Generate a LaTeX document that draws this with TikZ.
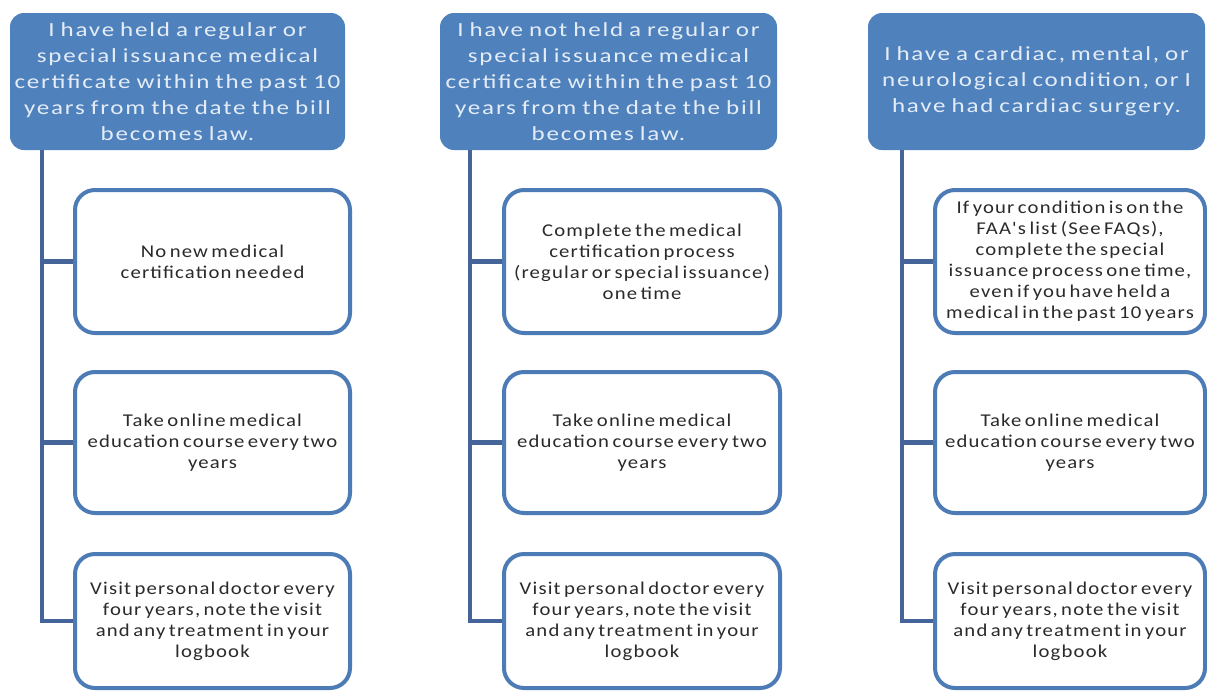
\documentclass[tikz,border=0pt]{standalone}
\usepackage{fontspec}
\setmainfont{Carlito}
\newfontfamily\hdrfont[FakeStretch=1.25, LetterSpace=9, WordSpace=0.8]{Carlito}
\newfontfamily\boxfont[FakeStretch=1.15, LetterSpace=6.5, WordSpace=0.6]{Carlito}
\usetikzlibrary{positioning}
\definecolor{hdrblue}{HTML}{4F81BD}
\definecolor{edgeblue}{HTML}{4C7BB6}
\definecolor{linkblue}{HTML}{44649A}
\definecolor{hdrtext}{HTML}{E4EDF7}
\definecolor{bodytext}{HTML}{2A2A2A}

\tikzset{
  header/.style={fill=hdrblue, rounded corners=14pt, text=hdrtext, align=center,
    inner sep=0pt, minimum height=137pt, font=\hdrfont\fontsize{20}{26}\selectfont},
  taskbox/.style={draw=edgeblue, line width=4pt, fill=white, rounded corners=20pt,
    text=bodytext, align=center, inner sep=0pt, font=\boxfont\fontsize{18}{21}\selectfont},
  link/.style={draw=linkblue, line width=4.5pt}
}

\begin{document}
\begin{tikzpicture}[x=1pt,y=-1pt]
\useasboundingbox[fill=white] (0,0) rectangle (1207,691);

% headers
\node[header, minimum width=335pt] (h1) at (177.5,81.5) {I have held a regular or\\special issuance medical\\certificate within the past 10\\years from the date the bill\\becomes law.};
\node[header, minimum width=337pt] (h2) at (608.5,81.5) {I have not held a regular or\\special issuance medical\\certificate within the past 10\\years from the date the bill\\becomes law.};
\node[header, minimum width=337pt] (h3) at (1036.5,81.5) {I have a cardiac, mental, or\\neurological condition, or I\\have had cardiac surgery.};

% first column
\node[taskbox, minimum width=275pt, minimum height=143pt] (c11) at (212.5,261.5) {No new medical\\certification needed};
\node[taskbox, minimum width=275pt, minimum height=141pt] (c12) at (212.5,442.5) {Take online medical\\education course every two\\years};
\node[taskbox, minimum width=275pt, minimum height=134pt] (c13) at (212.5,621) {Visit personal doctor every\\four years, note the visit\\and any treatment in your\\logbook};

% second column
\node[taskbox, minimum width=276pt, minimum height=143pt] (c21) at (642,261.5) {Complete the medical\\certification process\\(regular or special issuance)\\one time};
\node[taskbox, minimum width=276pt, minimum height=141pt] (c22) at (642,442.5) {Take online medical\\education course every two\\years};
\node[taskbox, minimum width=276pt, minimum height=134pt] (c23) at (642,621) {Visit personal doctor every\\four years, note the visit\\and any treatment in your\\logbook};

% third column
\node[taskbox, minimum width=270pt, minimum height=143pt] (c31) at (1070,261.5) {If your condition is on the\\FAA's list (See FAQs),\\complete the special\\issuance process one time,\\even if you have held a\\medical in the past 10 years};
\node[taskbox, minimum width=270pt, minimum height=141pt] (c32) at (1070,442.5) {Take online medical\\education course every two\\years};
\node[taskbox, minimum width=270pt, minimum height=134pt] (c33) at (1070,621) {Visit personal doctor every\\four years, note the visit\\and any treatment in your\\logbook};

% spines
\coordinate (s1) at (42,150);
\coordinate (s2) at (470,150);
\coordinate (s3) at (902,150);
\draw[link] (s1) |- (c13.west);
\draw[link] (s1 |- c11.west) -- (c11.west);
\draw[link] (s1 |- c12.west) -- (c12.west);
\draw[link] (s2) |- (c23.west);
\draw[link] (s2 |- c21.west) -- (c21.west);
\draw[link] (s2 |- c22.west) -- (c22.west);
\draw[link] (s3) |- (c33.west);
\draw[link] (s3 |- c31.west) -- (c31.west);
\draw[link] (s3 |- c32.west) -- (c32.west);
\end{tikzpicture}
\end{document}
